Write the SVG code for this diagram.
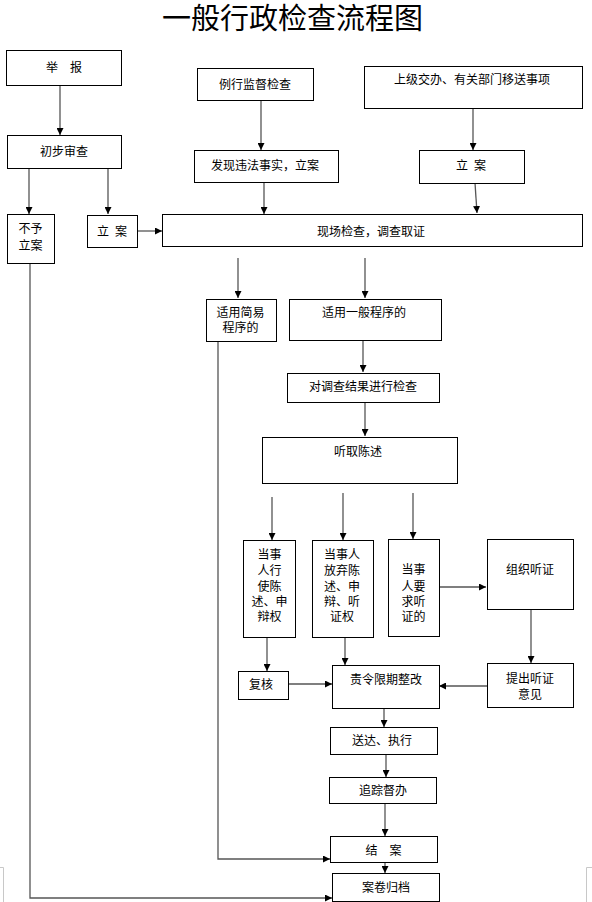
<svg xmlns="http://www.w3.org/2000/svg" width="592" height="902" viewBox="0 0 592 902">
<defs>
<marker id="ah" viewBox="0 0 8 8" refX="8" refY="4" markerWidth="7" markerHeight="7" markerUnits="userSpaceOnUse" orient="auto">
<path d="M0,0 L8,4 L0,8 z" fill="#000"/>
</marker>
<style>
.box{fill:#fff;stroke:#000;stroke-width:1}
.t{font-family:"Liberation Sans","Noto Sans CJK SC",sans-serif;font-size:12px;fill:#000;text-anchor:middle}
.title{font-family:"Liberation Sans","Noto Sans CJK SC",sans-serif;font-size:29px;fill:#000;text-anchor:middle}
.c{fill:none;stroke:#555;stroke-width:1.3}
.a{marker-end:url(#ah)}
.mark{fill:none;stroke:#c8c8c8;stroke-width:1}
</style>
</defs>
<rect width="592" height="902" fill="#fff"/>
<text class="title" x="292.5" y="29">一般行政检查流程图</text>

<g id="connectors">
<path class="c a" d="M60,85 V135"/>
<path class="c a" d="M29,168 V214"/>
<path class="c a" d="M108,168 V214"/>
<path class="c a" d="M137,231 H162"/>
<path class="c a" d="M261,100 V150"/>
<path class="c a" d="M264,168 V214"/>
<path class="c a" d="M473,108 V150"/>
<path class="c a" d="M475,183 L477,213"/>
<path class="c a" d="M238,258 V298"/>
<path class="c a" d="M365,258 V298"/>
<path class="c a" d="M363,340 V372"/>
<path class="c a" d="M365,402 V436"/>
<path class="c a" d="M272,497 V540"/>
<path class="c a" d="M343,493 V540"/>
<path class="c a" d="M413,493 V539"/>
<path class="c a" d="M438,587 H486"/>
<path class="c a" d="M531,609 V663"/>
<path class="c a" d="M487,686 H439"/>
<path class="c a" d="M267,637 V671"/>
<path class="c a" d="M288,684 H332"/>
<path class="c a" d="M345,637 V665"/>
<path class="c a" d="M384,708 V727"/>
<path class="c a" d="M386,754 V777"/>
<path class="c a" d="M385,803 V836"/>
<path class="c a" d="M218,341 V859 H330"/>
<path class="c a" d="M385,862 V873"/>
<path class="c a" d="M30,264 V898 H332"/>
</g>

<g id="n-jubao"><rect class="box" x="6.5" y="50.5" width="115" height="35"/><text class="t" x="64" y="72">举　报</text></g>
<g id="n-chubu"><rect class="box" x="7.5" y="135.5" width="114" height="33"/><text class="t" x="64" y="156">初步审查</text></g>
<g id="n-buyu"><rect class="box" x="7.5" y="214.5" width="47" height="49"/><text class="t" x="30.5" y="233">不予</text><text class="t" x="30.5" y="250">立案</text></g>
<g id="n-lian1"><rect class="box" x="87.5" y="215.5" width="50" height="32"/><text class="t" x="112" y="236">立<tspan dx="6">案</tspan></text></g>
<g id="n-lixing"><rect class="box" x="197.5" y="68.5" width="116" height="32"/><text class="t" x="255" y="89">例行监督检查</text></g>
<g id="n-faxian"><rect class="box" x="194.5" y="150.5" width="144" height="32"/><text class="t" x="265" y="170">发现违法事实，立案</text></g>
<g id="n-shangji"><rect class="box" x="364.5" y="66.5" width="218" height="42"/><text class="t" x="472" y="84">上级交办、有关部门移送事项</text></g>
<g id="n-lian2"><rect class="box" x="419.5" y="150.5" width="105" height="33"/><text class="t" x="471" y="170">立<tspan dx="6">案</tspan></text></g>
<g id="n-xianchang"><rect class="box" x="162.5" y="214.5" width="420" height="32"/><text class="t" x="371" y="236">现场检查，调查取证</text></g>
<g id="n-jianyi"><rect class="box" x="206.5" y="299.5" width="70" height="42"/><text class="t" x="240.5" y="317">适用简易</text><text class="t" x="240.5" y="332">程序的</text></g>
<g id="n-yiban"><rect class="box" x="289.5" y="299.5" width="152" height="41"/><text class="t" x="364" y="317">适用一般程序的</text></g>
<g id="n-duidiaocha"><rect class="box" x="287.5" y="373.5" width="152" height="29"/><text class="t" x="363" y="391">对调查结果进行检查</text></g>
<g id="n-tingqu"><rect class="box" x="262.5" y="437.5" width="195" height="46"/><text class="t" x="358" y="456">听取陈述</text></g>
<g id="n-xingshi"><rect class="box" x="243.5" y="540.5" width="52" height="97"/>
<text class="t" x="269.5" y="559">当事</text><text class="t" x="269.5" y="575">人行</text><text class="t" x="269.5" y="591">使陈</text><text class="t" x="269.5" y="606">述、申</text><text class="t" x="269.5" y="621">辩权</text></g>
<g id="n-fangqi"><rect class="box" x="312.5" y="540.5" width="61" height="97"/>
<text class="t" x="342" y="559">当事人</text><text class="t" x="342" y="575">放弃陈</text><text class="t" x="342" y="591">述、申</text><text class="t" x="342" y="606">辩、听</text><text class="t" x="342" y="621">证权</text></g>
<g id="n-yaoqiu"><rect class="box" x="388.5" y="539.5" width="51" height="97"/>
<text class="t" x="413.5" y="574">当事</text><text class="t" x="413.5" y="591">人要</text><text class="t" x="413.5" y="606">求听</text><text class="t" x="413.5" y="621">证的</text></g>
<g id="n-zuzhi"><rect class="box" x="487.5" y="539.5" width="86" height="70"/><text class="t" x="530" y="574">组织听证</text></g>
<g id="n-tichu"><rect class="box" x="487.5" y="663.5" width="86" height="44"/><text class="t" x="530" y="683">提出听证</text><text class="t" x="530" y="699">意见</text></g>
<g id="n-fuhe"><rect class="box" x="238.5" y="671.5" width="50" height="28"/><text class="t" x="261" y="689">复核</text></g>
<g id="n-zeling"><rect class="box" x="332.5" y="665.5" width="107" height="43"/><text class="t" x="386" y="684">责令限期整改</text></g>
<g id="n-songda"><rect class="box" x="330.5" y="727.5" width="107" height="27"/><text class="t" x="382" y="745">送达、执行</text></g>
<g id="n-zhuizong"><rect class="box" x="329.5" y="777.5" width="107" height="26"/><text class="t" x="383" y="795">追踪督办</text></g>
<g id="n-jiean"><rect class="box" x="330.5" y="836.5" width="107" height="26"/><text class="t" x="383.5" y="855">结　案</text></g>
<g id="n-anjuan"><rect class="box" x="332.5" y="873.5" width="107" height="28"/><text class="t" x="386" y="892">案卷归档</text></g>

<path class="mark" d="M0,867.5 H3.5 V902"/>
<path class="mark" d="M592,867.5 H586.5 V902"/>
</svg>
